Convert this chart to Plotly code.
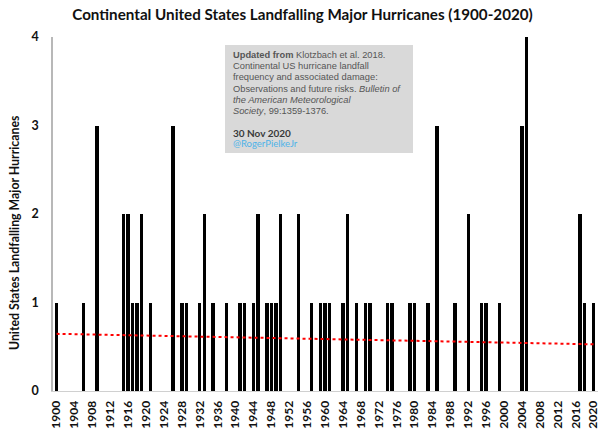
import numpy as np
import plotly.graph_objects as go

# Years with landfalling major hurricanes and their counts (all other years = 0)
event_years = [1900, 1906, 1909, 1915, 1916, 1917, 1918, 1919, 1921, 1926, 1928, 1929,
               1932, 1933, 1935, 1938, 1941, 1942, 1944, 1945, 1947, 1948, 1949, 1950,
               1954, 1957, 1959, 1960, 1961, 1964, 1965, 1967, 1969, 1970, 1974, 1975,
               1979, 1980, 1983, 1985, 1989, 1992, 1995, 1996, 1999, 2004, 2005, 2017,
               2018, 2020]
event_counts = [1, 1, 3, 2, 2, 1, 1, 2, 1, 3, 1, 1,
                1, 2, 1, 1, 1, 1, 1, 2, 1, 1, 1, 2,
                2, 1, 1, 1, 1, 1, 2, 1, 1, 1, 1, 1,
                1, 1, 1, 3, 1, 2, 1, 1, 1, 3, 4, 2,
                1, 1]

years = list(range(1900, 2021))
count_map = dict(zip(event_years, event_counts))
counts = [count_map.get(y, 0) for y in years]

tick_years = list(range(1900, 2021, 4))
y_ticks = [0, 1, 2, 3, 4]

title_text = "Continental United States Landfalling Major Hurricanes (1900-2020)"
y_title = "United States Landfalling Major Hurricanes"

box_lines = [
    "<b>Updated from</b> Klotzbach et al. 2018.",
    "Continental US hurricane landfall",
    "frequency and associated damage:",
    "Observations and future risks. <i>Bulletin of</i>",
    "<i>the American Meteorological</i>",
    "<i>Society</i>, 99:1359-1376.",
]
box_date = "30 Nov 2020"
box_handle = "@RogerPielkeJr"

# Linear trend (least squares) over all years
slope, intercept = np.polyfit(years, counts, 1)
trend = [slope * y + intercept for y in years]

W, H = 604, 436
L, R, T, B = 53, 6, 37, 45
pw, ph = W - L - R, H - T - B


def px_x(p):
    return (p - L) / pw


def px_y(p):
    return 1 - (p - T) / ph


fig = go.Figure()
fig.add_trace(go.Bar(x=years, y=counts, marker=dict(color="black", line=dict(width=0)),
                     width=0.76, showlegend=False, hoverinfo="x+y"))
fig.add_trace(go.Scatter(x=years, y=trend, mode="lines",
                         line=dict(color="#ff0000", width=2, dash="dot"),
                         showlegend=False, hoverinfo="skip"))

font_main = "Lato, Carlito, Calibri, sans-serif"

fig.update_layout(
    width=W, height=H,
    margin=dict(l=L, r=R, t=T, b=B),
    paper_bgcolor="white", plot_bgcolor="white",
    bargap=0,
    title=dict(text="<b>" + title_text + "</b>", x=302.5 / W, xref="container", xanchor="center",
               y=1 - 15 / H, yref="container", yanchor="middle",
               font=dict(family=font_main, size=15.2, color="#111111")),
    xaxis=dict(range=[1899.2, 2021.0], tickmode="array", tickvals=tick_years,
               ticktext=["<b>%d</b>" % t for t in tick_years], tickangle=-90,
               tickfont=dict(family=font_main, size=12, color="#111111"),
               showgrid=False, zeroline=False, showline=True, linecolor="#d0d0d0", linewidth=1,
               ticks="", ticklabelstandoff=4, automargin=False, fixedrange=True),
    yaxis=dict(range=[0, 4], tickmode="array", tickvals=y_ticks,
               ticktext=["<b>%d</b>" % t for t in y_ticks],
               tickfont=dict(family=font_main, size=12.5, color="#111111"),
               showgrid=False, zeroline=False, showline=True, linecolor="#b8b8b8", linewidth=1.5,
               ticks="", ticklabelstandoff=10, automargin=False, fixedrange=True),
    font=dict(family=font_main),
)

fig.add_annotation(text="<b>" + y_title + "</b>", xref="paper", yref="paper",
                   x=px_x(14), y=px_y(233), textangle=-90, showarrow=False,
                   xanchor="center", yanchor="middle",
                   font=dict(family=font_main, size=12.3, color="#111111"))

# Citation box
fig.add_shape(type="rect", xref="paper", yref="paper",
              x0=px_x(225), x1=px_x(413), y0=px_y(153), y1=px_y(45),
              fillcolor="#d9d9d9", line=dict(width=0), layer="above")

box_font = dict(family="Liberation Sans, Arial, sans-serif", size=9.3, color="#555555")
for i, line in enumerate(box_lines):
    fig.add_annotation(text=line, xref="paper", yref="paper",
                       x=px_x(231), y=px_y(55 + 11.2 * i), xanchor="left", yanchor="middle",
                       align="left", showarrow=False, font=box_font)
fig.add_annotation(text="<b>" + box_date + "</b>", xref="paper", yref="paper",
                   x=px_x(231), y=px_y(132.5), xanchor="left", yanchor="middle",
                   showarrow=False,
                   font=dict(family=font_main, size=10, color="#3a3a3a"))
fig.add_annotation(text=box_handle, xref="paper", yref="paper",
                   x=px_x(231), y=px_y(144), xanchor="left", yanchor="middle",
                   showarrow=False,
                   font=dict(family=font_main, size=9.5, color="#4fb3e8"))

fig.write_html("out.html", config={"displayModeBar": False},
               post_script="document.body.style.margin='0';")
